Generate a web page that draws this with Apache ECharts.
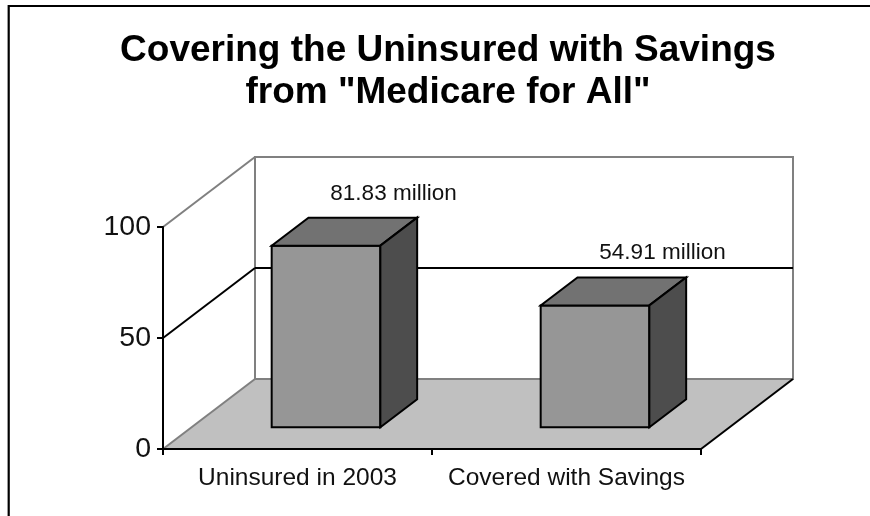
<!DOCTYPE html>
<html>
<head>
<meta charset="utf-8">
<style>
  html, body { margin: 0; padding: 0; background: #ffffff; }
  #chart { width: 870px; height: 516px; }
</style>
<script src="https://cdn.jsdelivr.net/npm/echarts@6/dist/echarts.min.js"></script>
</head>
<body>
<div id="chart"></div>
<script>
// ---- data ----
const titleLines = ['Covering the Uninsured with Savings', 'from "Medicare for All"'];
const categories = ['Uninsured in 2003', 'Covered with Savings'];
const values = [81.83, 54.91];
const valueLabels = ['81.83 million', '54.91 million'];
const yTicks = [0, 50, 100];

// ---- style / layout constants ----
const DX = 92, DY = -70;          // oblique depth of the 3D box
const F0 = 0.31, F1 = 0.71;       // depth range occupied by bars
const BAR_W = 0.404;              // bar width as share of category band
const GRAY = '#808080';
const FONT = '"Liberation Sans", Arial, Helvetica, sans-serif';

const chart = echarts.init(document.getElementById('chart'), null, { renderer: 'canvas' });

function renderWalls(params, api) {
  const cs = params.coordSys;
  const xL = cs.x, xR = cs.x + cs.width;
  const yB = api.coord([0, yTicks[0]])[1];
  const yT = api.coord([0, yTicks[yTicks.length - 1]])[1];
  const children = [];
  children.push({
    type: 'polygon',
    shape: { points: [[xL, yB], [xR, yB], [xR + DX, yB + DY], [xL + DX, yB + DY]] },
    style: { fill: '#c0c0c0', stroke: null }
  });
  children.push({
    type: 'rect',
    shape: { x: xL + DX, y: yT + DY, width: xR - xL, height: yB - yT },
    style: { fill: '#ffffff', stroke: GRAY, lineWidth: 2 }
  });
  yTicks.forEach(function (t, i) {
    const y = api.coord([0, t])[1];
    const edge = (i === 0 || i === yTicks.length - 1);
    const col = edge ? GRAY : '#000000';
    children.push({
      type: 'line',
      shape: { x1: xL, y1: y, x2: xL + DX, y2: y + DY },
      style: { stroke: col, lineWidth: 2 }
    });
    if (!edge) {
      children.push({
        type: 'line',
        shape: { x1: xL + DX, y1: y + DY, x2: xR + DX, y2: y + DY },
        style: { stroke: col, lineWidth: 2 }
      });
    }
  });
  children.push({
    type: 'line',
    shape: { x1: xR, y1: yB, x2: xR + DX, y2: yB + DY },
    style: { stroke: '#000000', lineWidth: 2 }
  });
  return { type: 'group', children: children };
}

function renderBar(params, api) {
  const idx = api.value(0);
  const val = api.value(1);
  const base = api.coord([idx, 0]);
  const top = api.coord([idx, val]);
  const bw = api.size([1, 0])[0] * BAR_W;
  const fl = base[0] - bw / 2 + F0 * DX;
  const fr = base[0] + bw / 2 + F0 * DX;
  const fb = base[1] + F0 * DY;
  const ft = top[1] + F0 * DY;
  const ox = (F1 - F0) * DX, oy = (F1 - F0) * DY;
  const st = { stroke: '#000000', lineWidth: 2, lineJoin: 'miter' };
  return {
    type: 'group',
    children: [
      { type: 'polygon', shape: { points: [[fl, ft], [fr, ft], [fr, fb], [fl, fb]] },
        style: Object.assign({ fill: '#969696' }, st) },
      { type: 'polygon', shape: { points: [[fl, ft], [fr, ft], [fr + ox, ft + oy], [fl + ox, ft + oy]] },
        style: Object.assign({ fill: '#727272' }, st) },
      { type: 'polygon', shape: { points: [[fr, ft], [fr + ox, ft + oy], [fr + ox, fb + oy], [fr, fb]] },
        style: Object.assign({ fill: '#4d4d4d' }, st) },
      { type: 'text',
        style: { x: base[0] + DX + 4, y: top[1] + DY - 4, text: valueLabels[params.dataIndex],
          font: '22.5px ' + FONT, fill: '#111111', align: 'center', verticalAlign: 'middle' } }
    ]
  };
}

chart.setOption({
  backgroundColor: '#ffffff',
  animation: false,
  title: {
    text: titleLines.join('\n'),
    left: 448,
    top: 30,
    padding: 0,
    textAlign: 'center',
    textStyle: { fontFamily: FONT, fontSize: 37, fontWeight: 'bold', lineHeight: 42, color: '#000000' }
  },
  graphic: [{
    type: 'rect',
    shape: { x: 8.7, y: 6, width: 1000, height: 700 },
    style: { fill: null, stroke: '#000000', lineWidth: 2.2 },
    silent: true
  }],
  grid: { left: 163, right: 169, top: 227, bottom: 67, containLabel: false },
  xAxis: {
    type: 'category',
    data: categories,
    boundaryGap: true,
    z: 10,
    axisLine: { lineStyle: { color: '#000000', width: 2 } },
    axisTick: { show: true, length: 6, lineStyle: { color: '#000000', width: 2 } },
    axisLabel: { interval: 0, margin: 17, fontFamily: FONT, fontSize: 24.5, color: '#111111' },
    splitLine: { show: false }
  },
  yAxis: {
    type: 'value',
    min: 0, max: 100, interval: 50,
    z: 10,
    axisLine: { show: true, lineStyle: { color: '#000000', width: 2 } },
    axisTick: { show: true, length: 6, lineStyle: { color: '#000000', width: 2 } },
    axisLabel: { margin: 12, fontFamily: FONT, fontSize: 28.5, color: '#111111' },
    splitLine: { show: false }
  },
  series: [
    {
      type: 'custom',
      name: 'walls',
      silent: true,
      z: 1,
      renderItem: renderWalls,
      data: [[0, 0]]
    },
    {
      type: 'custom',
      name: 'bars',
      z: 3,
      renderItem: renderBar,
      data: values.map(function (v, i) { return [i, v]; })
    }
  ]
});
</script>
</body>
</html>
